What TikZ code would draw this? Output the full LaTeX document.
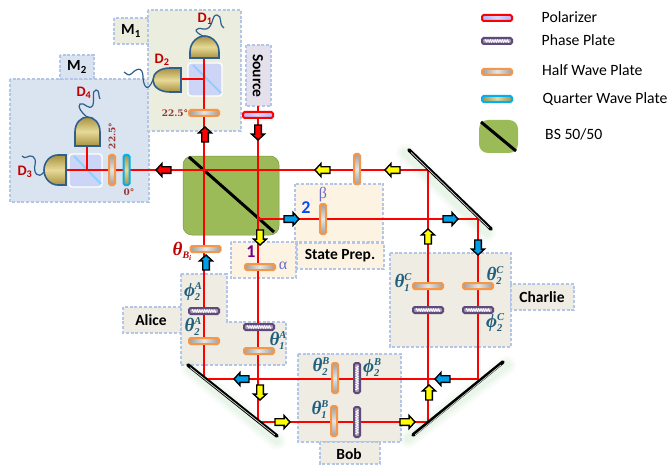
\documentclass[tikz,border=0pt]{standalone}
\usepackage{fontspec}
\setmainfont{Carlito}
\newfontfamily\gk{Liberation Serif}
\newfontfamily\sr{DejaVu Serif}
\usetikzlibrary{shapes.arrows,decorations.pathmorphing}
\definecolor{beam}{HTML}{FF0000}
\definecolor{dash}{HTML}{B3C6E7}
\definecolor{pnlA}{HTML}{EBEEDF}
\definecolor{pnlB}{HTML}{DAE3F0}
\definecolor{pnlC}{HTML}{E4E1EC}
\definecolor{pnlD}{HTML}{FDF3E3}
\definecolor{pnlE}{HTML}{EEECE3}
\definecolor{orng}{HTML}{F79646}
\definecolor{purp}{HTML}{5F497A}
\definecolor{cyn}{HTML}{00B0F0}
\definecolor{grn}{HTML}{9BBB59}
\definecolor{blu}{HTML}{00A0E8}
\definecolor{yel}{HTML}{FFFF00}
\definecolor{tl}{HTML}{215E7C}
\definecolor{rd}{HTML}{C00000}
\definecolor{wire}{HTML}{2F5F8A}
\definecolor{brn}{HTML}{953735}
\definecolor{gldD}{HTML}{A8923F}
\definecolor{gldL}{HTML}{E6D998}
\definecolor{cub}{HTML}{CDD5F7}
\tikzset{
 x=1pt,y=-1pt,
 panel/.style={draw=dash,line width=1.1pt,dash pattern=on 3pt off 1.8pt},
 labelbox/.style={font=\bfseries\fontsize{15.5}{15.5}\selectfont,text=black},
 laser/.style={draw=beam,line width=2pt},
 plate/.style={rectangle,rounded corners=1.5pt,inner sep=0pt,line width=2pt},
 hwph/.style={plate,draw=orng,minimum width=30pt,minimum height=6pt,left color=gray!75,right color=gray!75,middle color=gray!20},
 hwpv/.style={plate,draw=orng,minimum width=6pt,minimum height=30pt,top color=gray!75,bottom color=gray!75,middle color=gray!20},
 phh/.style={plate,draw=purp,fill=purp!55,line width=2pt,minimum width=30pt,minimum height=6pt},
 phv/.style={plate,draw=purp,fill=purp!55,line width=2pt,minimum width=6pt,minimum height=30pt},
 zig/.style={draw=white,line width=.8pt,decorate,decoration={zigzag,segment length=2.4pt,amplitude=1.2pt}},
 qwph/.style={plate,draw=cyn,minimum width=30pt,minimum height=6pt,left color=gldD,right color=gldD,middle color=gldL},
 qwpv/.style={plate,draw=cyn,minimum width=6pt,minimum height=30pt,top color=gldD,bottom color=gldD,middle color=gldL},
 polar/.style={plate,draw=beam,minimum width=30pt,minimum height=6pt,left color=blue!30,right color=blue!30,middle color=blue!15},
 flow/.style={single arrow,draw=black,line width=1.4pt,inner sep=2.6pt,minimum height=15pt,single arrow head extend=3.2pt,single arrow tip angle=95},
 det/.style={draw=wire,line width=1.6pt,shading angle=45,top color=gldD,bottom color=gldD,middle color=gldL},
 wiring/.style={draw=wire,line width=1.2pt},
 cube/.style={draw=white,line width=1.4pt,rounded corners=3pt,fill=cub},
 dlab/.style={font=\bfseries\fontsize{14.5}{14.5}\selectfont,text=rd,inner sep=0pt},
 sym/.style={font=\bfseries\itshape\fontsize{19}{19}\selectfont,text=tl,inner sep=0pt},
 deg/.style={font=\sr\bfseries\fontsize{9}{9}\selectfont,text=brn,inner sep=0pt},
 legend/.style={font=\fontsize{15.7}{15.7}\selectfont,anchor=west,inner sep=0pt,text=black},
 bsplate/.style={fill=grn,rounded corners=9pt},
}
\newcommand{\gsym}[3]{{\gk #1}\rlap{\raisebox{-4pt}{\fontsize{10.5}{10.5}\selectfont\gk #2}}\raisebox{7pt}{\fontsize{10.5}{10.5}\selectfont\gk #3}}
\begin{document}
\begin{tikzpicture}
\useasboundingbox (0,0) rectangle (668,465);
\fill[white] (0,0) rectangle (668,465);
% panels
\draw[panel,fill=pnlB] (10,79) rectangle (149,202);
\draw[panel,fill=pnlB] (60,55) rectangle (94,79);
\draw[panel,fill=pnlA] (148,10) rectangle (241,131);
\draw[panel,fill=pnlA] (114,18) rectangle (148,44);
\draw[panel,fill=pnlC] (246,45) rectangle (271,106);
\draw[panel,fill=pnlD] (295,184) rectangle (383,242);
\draw[panel,fill=pnlD] (297,243) rectangle (384,269);
\draw[panel,fill=pnlD] (231,242) rectangle (296,278);
\draw[panel,fill=pnlE] (181,274) -- (227,274) -- (227,322) -- (286,322) -- (286,365) -- (181,365) -- cycle;
\draw[panel,fill=pnlE] (123,307) rectangle (181,333);
\draw[panel,fill=pnlE] (298,354) rectangle (401,442);
\draw[panel,fill=pnlE] (320,442) rectangle (380,464);
\draw[panel,fill=pnlE] (390,253) rectangle (511,347);
\draw[panel,fill=pnlE] (511,284) rectangle (574,310);
% mirrors glow
\foreach \w/\o in {18/.06,13/.08,8/.1}{
 \draw[green!40!gray!50,opacity=\o,line width=\w pt,line cap=round] (190,369) -- (277,441);
 \draw[green!40!gray!50,opacity=\o,line width=\w pt,line cap=round] (405,153) -- (487,233);
 \draw[green!40!gray!50,opacity=\o,line width=\w pt,line cap=round] (408,439) -- (507,365);
}
% beam splitters
\draw[bsplate,draw=grn!80!black,line width=.5pt] (183,156) rectangle (279,235);
\draw[black,line width=3pt] (189,157) -- (274,232);
\fill[bsplate] (479,120) rectangle (518,153);
\draw[black,line width=3pt] (481,122) -- (516,151);
% cubes
\draw[cube] (188,63) rectangle (222,96);
\draw[blue!40!cyan!45,line width=2pt] (193,65) -- (221,93);
\draw[cube] (69,154) rectangle (102,187);
\draw[blue!40!cyan!45,line width=2pt] (74,156) -- (101,184);
% named beam points
\coordinate (srcT) at (258,106);
\coordinate (bsD) at (258,219);
\coordinate (mBL2) at (258,422);
\coordinate (mBR2) at (428,422);
\coordinate (mTR1) at (428,170);
\coordinate (mTR2) at (478,219);
\coordinate (mBR1) at (478,379);
\coordinate (mBL1) at (204,379);
\coordinate (d1in) at (204,58);
\coordinate (c1) at (204,79);
\coordinate (d2in) at (181,79);
\coordinate (d3in) at (66,170);
\coordinate (d4in) at (87,146);
\coordinate (c2) at (87,170);
% beams
\draw[laser] (srcT) -- (bsD) -- (mBL2) -- (mBR2) -- (mTR1) -- (d3in);
\draw[laser] (bsD) -- (mTR2) -- (mBR1) -- (mBL1) -- (d1in);
\draw[laser] (c1) -- (d2in);
\draw[laser] (d4in) -- (c2);
% mirrors
\draw[black,line width=3.6pt,line cap=round] (188,365) -- (277,436);
\draw[gray!30,line width=.7pt] (190,367.5) -- (275,435);
\draw[black,line width=3.6pt,line cap=round] (409,150) -- (491,229);
\draw[gray!30,line width=.7pt] (411,152.5) -- (489,228);
\draw[black,line width=3.6pt,line cap=round] (413,435) -- (503,362);
\draw[gray!30,line width=.7pt] (415,435) -- (501,365);
% detectors
\draw[det] (190,58) -- (190,52) .. controls (190,42) and (198,36) .. (204.5,36) .. controls (211,36) and (219,42) .. (219,52) -- (219,58) -- cycle;
\draw[det] (181,68) -- (170,68) .. controls (160,68) and (153,73) .. (153,80) .. controls (153,87) and (160,92) .. (170,92) -- (181,92) -- cycle;
\draw[det] (75,146) -- (75,132) .. controls (75,123) and (81,117) .. (87.5,117) .. controls (94,117) and (100,123) .. (100,132) -- (100,146) -- cycle;
\draw[det] (66,155) -- (58,155) .. controls (50,155) and (44,162) .. (44,170) .. controls (44,178) and (50,185) .. (58,185) -- (66,185) -- cycle;
% wires
\draw[wiring] (203,36) .. controls (192,31) and (196,27) .. (203,29) .. controls (214,31) and (211,14) .. (217,15) .. controls (223,16) and (218,24) .. (224,28);
\draw[wiring] (153,80) .. controls (148,92) and (144,88) .. (143,78) .. controls (143,64) and (135,70) .. (131,74) .. controls (129,76) and (126,74) .. (124,72);
\draw[wiring] (87,117) .. controls (82,113) and (77,107) .. (80,104) .. controls (84,101) and (89,112) .. (93,105) .. controls (95,100) and (91,91) .. (96,90) .. controls (100,90) and (98,96) .. (100,99);
\draw[wiring] (44,172) .. controls (38,180) and (33,172) .. (35,165) .. controls (37,155) and (30,155) .. (27,157) .. controls (25,158) and (24,158) .. (22,156);
% half wave plates
\node[hwph] (hM1) at (204,113) {};
\node[hwpv] (hM2) at (112,170) {};
\node[qwpv] (qM2) at (126.5,170) {};
\node[polar] (pol) at (258,115) {};
\node[hwph] (hB) at (205.5,249) {};
\node[hwph] (hA1) at (260,267) {};
\node[hwpv] (hBeta) at (323,219) {};
\node[hwpv] (hTop) at (357,169) {};
\node[hwph] (hA) at (204,341) {};
\node[hwph] (hA2) at (259,351) {};
\node[hwpv] (hB2) at (335,378) {};
\node[hwpv] (hB1) at (334,421) {};
\node[hwph] (hC1) at (428,286) {};
\node[hwph] (hC2) at (478,286) {};
% phase plates
\foreach \n/\x/\y in {pA2/204/311,pA1/259/327,pC1/428/310,pC2/478/310,pLeg/497/41}{
 \node[phh] (\n) at (\x,\y) {};
 \draw[zig] (\x-12,\y) -- (\x+12,\y);
}
\foreach \n/\x/\y in {pB2/357/378,pB1/357/422}{
 \node[phv] (\n) at (\x,\y) {};
 \draw[zig] (\x,\y-12) -- (\x,\y+12);
}
% arrows
\node[flow,fill=beam,rotate=180] (a1) at (165,170) {};
\node[flow,fill=beam,rotate=90] (a2) at (205,136) {};
\node[flow,fill=beam,rotate=-90] (a3) at (258,131) {};
\node[flow,fill=yel,rotate=180] (a4) at (324,170) {};
\node[flow,fill=yel,rotate=180] (a5) at (394,170) {};
\node[flow,fill=blu] (a6) at (290,219) {};
\node[flow,fill=blu] (a7) at (449,219) {};
\node[flow,fill=yel,rotate=-90] (a8) at (260,236) {};
\node[flow,fill=blu,rotate=90] (a9) at (206,264) {};
\node[flow,fill=yel,rotate=90] (a10) at (428,238) {};
\node[flow,fill=blu,rotate=-90] (a11) at (478,246) {};
\node[flow,fill=blu,rotate=180] (a12) at (444,379) {};
\node[flow,fill=yel,rotate=90] (a13) at (429,394) {};
\node[flow,fill=blu,rotate=180] (a14) at (243,379) {};
\node[flow,fill=yel,rotate=-90] (a15) at (260,391) {};
\node[flow,fill=yel] (a16) at (281,422) {};
\node[flow,fill=yel] (a17) at (406,422) {};
% labels
\node[labelbox] (tM1) at (131,31) {M\textsubscript{1}};
\node[labelbox] (tM2) at (77,67) {M\textsubscript{2}};
\node[labelbox,rotate=-90] (tS) at (258,76) {Source};
\node[labelbox] (tSP) at (340,256) {State Prep.};
\node[labelbox] (tA) at (151,320) {Alice};
\node[labelbox] (tB) at (349,454) {Bob};
\node[labelbox] (tC) at (542,297) {Charlie};
\node[dlab] (d1) at (205,19) {D\textsubscript{1}};
\node[dlab] (d2) at (162,60) {D\textsubscript{2}};
\node[dlab] (d4) at (84,93) {D\textsubscript{4}};
\node[dlab] (d3) at (25,172) {D\textsubscript{3}};
\node[deg] (t1) at (175,113) {22.5°};
\node[deg,rotate=90] (t2) at (112,136) {22.5°};
\node[deg] (t3) at (129,192) {0°};
\node[font=\bfseries\fontsize{18}{18}\selectfont,text=purple!60!blue,inner sep=0pt] (n1) at (251,252) {1};
\node[font=\bfseries\fontsize{18}{18}\selectfont,text=blue!70!cyan,inner sep=0pt] (n2) at (306,208) {2};
\node[font=\gk\fontsize{16}{16}\selectfont,text=blue!45!gray!80,inner sep=0pt] (al) at (283,266) {α};
\node[font=\gk\fontsize{16}{16}\selectfont,text=blue!45!gray!80,inner sep=0pt] (be) at (323,195) {β};
\node[sym,text=rd] (s0) at (182,251) {{\gk θ}\raisebox{-3pt}{\fontsize{10}{10}\selectfont\gk B\raisebox{-2pt}{\fontsize{7.5}{7.5}\selectfont i}}};
\node[sym] (s1) at (193,292) {\gsym{ϕ}{2}{A}};
\node[sym] (s2) at (193,327) {\gsym{θ}{2}{A}};
\node[sym] (s3) at (278,341) {\gsym{θ}{1}{A}};
\node[sym] (s4) at (321,367) {\gsym{θ}{2}{B}};
\node[sym] (s5) at (372,368) {\gsym{ϕ}{2}{B}};
\node[sym] (s6) at (320,410) {\gsym{θ}{1}{B}};
\node[sym] (s7) at (403,283) {\gsym{θ}{1}{C}};
\node[sym] (s8) at (495,276) {\gsym{θ}{2}{C}};
\node[sym] (s9) at (495,323) {\gsym{ϕ}{2}{C}};
% legend
\node[polar] (lg1) at (497,18) {};
\node[hwph] (lg3) at (497,72) {};
\node[qwph] (lg4) at (497,99) {};
\node[legend] (lt1) at (541.5,17) {Polarizer};
\node[legend] (lt2) at (541.5,40) {Phase Plate};
\node[legend] (lt3) at (542,70) {Half Wave Plate};
\node[legend] (lt4) at (542.5,99) {Quarter Wave Plate};
\node[legend] (lt5) at (545,134) {BS 50/50};
\end{tikzpicture}
\end{document}
